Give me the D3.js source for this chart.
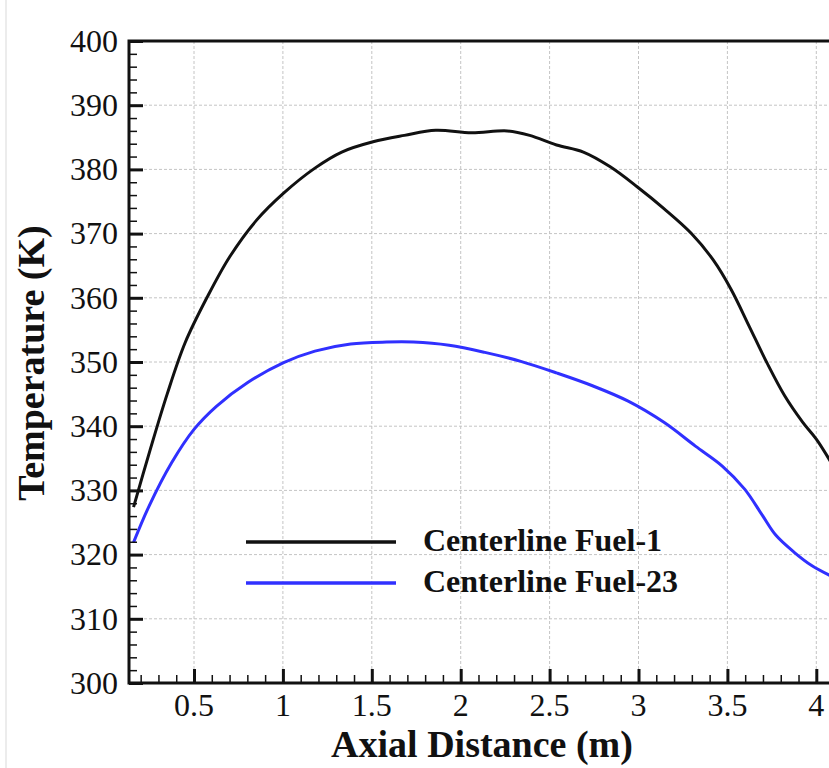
<!DOCTYPE html>
<html>
<head>
<script src="https://d3js.org/d3.v7.min.js"></script>
<style>
  body { margin: 0; background: #fff; }
  text { font-family: "Liberation Serif", "Times New Roman", serif; fill: #111; }
  .grid line { stroke: #c4c4c4; stroke-width: 1; stroke-dasharray: 3,2; }
  .curve { fill: none; stroke-width: 3; }
</style>
</head>
<body>
<div id="chart"></div>
<script>
// data
const fuel1X = [0.160, 0.25, 0.349, 0.450, 0.576, 0.701, 0.852, 1.004, 1.18, 1.331, 1.507, 1.683, 1.86, 2.061, 2.262, 2.388, 2.539, 2.69, 2.841, 2.992, 3.143, 3.295, 3.42, 3.521, 3.622, 3.722, 3.823, 3.924, 4.0, 4.08];
const fuel1T = [327.4, 336.0, 345.0, 353.0, 360.2, 366.4, 372.1, 376.3, 380.2, 382.7, 384.3, 385.3, 386.1, 385.7, 386.0, 385.3, 383.8, 382.7, 380.4, 377.3, 373.9, 370.1, 365.9, 361.3, 355.6, 349.9, 344.7, 340.6, 338.0, 334.5];
const fuel23X = [0.160, 0.248, 0.374, 0.5, 0.626, 0.802, 1.004, 1.18, 1.381, 1.583, 1.734, 1.935, 2.136, 2.338, 2.539, 2.741, 2.942, 3.143, 3.32, 3.471, 3.597, 3.697, 3.773, 3.874, 3.974, 4.08];
const fuel23T = [321.9, 327.6, 334.3, 339.5, 343.1, 346.8, 349.9, 351.7, 352.8, 353.1, 353.1, 352.6, 351.5, 350.1, 348.3, 346.3, 343.9, 340.6, 336.9, 333.8, 330.2, 326.1, 323.0, 320.4, 318.3, 316.7];
const xTicks = [0.5, 1, 1.5, 2, 2.5, 3, 3.5, 4];
const yTicks = [300, 310, 320, 330, 340, 350, 360, 370, 380, 390, 400];
const seriesNames = ["Centerline Fuel-1", "Centerline Fuel-23"];
const seriesColors = ["#111111", "#3030ff"];

const W = 829, H = 768;
const plotLeft = 129, plotTop = 41, plotBottom = 683;

const svg = d3.select("#chart").append("svg")
    .attr("width", W)
    .attr("height", H);

const x = d3.scaleLinear().domain([0.1344, 4.2]).range([plotLeft, plotLeft + (4.2 - 0.1344) * 177.8]);
const y = d3.scaleLinear().domain([300, 400]).range([plotBottom, plotTop]);

// faint page edge line
svg.append("line")
    .attr("x1", 6).attr("x2", 6).attr("y1", 0).attr("y2", H)
    .attr("stroke", "#e6e6e6").attr("stroke-width", 1.5);

// grid
const grid = svg.append("g").attr("class", "grid");
grid.selectAll(".gx").data(xTicks).enter().append("line")
    .attr("x1", d => x(d)).attr("x2", d => x(d))
    .attr("y1", plotTop).attr("y2", plotBottom);
grid.selectAll(".gy").data(yTicks.slice(1, -1)).enter().append("line")
    .attr("x1", plotLeft).attr("x2", W)
    .attr("y1", d => y(d)).attr("y2", d => y(d));

// curves
svg.append("defs").append("clipPath").attr("id", "clip")
    .append("rect").attr("x", plotLeft).attr("y", plotTop)
    .attr("width", W - plotLeft).attr("height", plotBottom - plotTop);

const line = d3.line()
    .x(d => x(d[0]))
    .y(d => y(d[1]))
    .curve(d3.curveCatmullRom);

const series = [
    fuel1X.map((v, i) => [v, fuel1T[i]]),
    fuel23X.map((v, i) => [v, fuel23T[i]])
];
series.forEach((pts, i) => {
    svg.append("path")
        .datum(pts)
        .attr("class", "curve")
        .attr("clip-path", "url(#clip)")
        .attr("stroke", seriesColors[i])
        .attr("d", line);
});

// axes: inward ticks, major + minor
const yAxis = d3.axisRight(y).tickValues(yTicks).tickSize(14).tickFormat("");
const yMinor = d3.axisRight(y).tickValues(d3.range(302, 400, 2).filter(d => d % 10 !== 0)).tickSize(8).tickFormat("");
const xAxis = d3.axisTop(x).tickValues(xTicks).tickSize(14).tickFormat("");
const xMinor = d3.axisTop(x).tickValues(d3.range(2, 42).map(d => d / 10).filter(d => d % 0.5 > 0.01 && d % 0.5 < 0.49)).tickSize(8).tickFormat("");

function styleAxis(g, w) {
    g.select(".domain").remove();
    g.selectAll(".tick line").attr("stroke", "#111").attr("stroke-width", w);
}
svg.append("g").attr("transform", `translate(${plotLeft},0)`).call(yAxis).call(g => styleAxis(g, 3));
svg.append("g").attr("transform", `translate(${plotLeft},0)`).call(yMinor).call(g => styleAxis(g, 1.5));
svg.append("g").attr("transform", `translate(0,${plotBottom})`).call(xAxis).call(g => styleAxis(g, 3));
svg.append("g").attr("transform", `translate(0,${plotBottom})`).call(xMinor).call(g => styleAxis(g, 1.5));

// frame
svg.append("path")
    .attr("d", `M${W + 5},${plotTop}H${plotLeft}V${plotBottom}H${W + 5}`)
    .attr("fill", "none").attr("stroke", "#111").attr("stroke-width", 3);

// tick labels
svg.selectAll(".ylab").data(yTicks).enter().append("text")
    .attr("x", 118).attr("y", d => y(d)).attr("dy", "0.34em")
    .attr("text-anchor", "end").style("font-size", "32px")
    .text(d => d);
svg.selectAll(".xlab").data(xTicks).enter().append("text")
    .attr("x", d => x(d)).attr("y", 716)
    .attr("text-anchor", "middle").style("font-size", "32px")
    .text(d => d);

// titles
svg.append("text")
    .attr("x", 482).attr("y", 757)
    .attr("text-anchor", "middle")
    .style("font-size", "38px").style("font-weight", "bold")
    .text("Axial Distance (m)");
svg.append("text")
    .attr("transform", "translate(44,363) rotate(-90)")
    .attr("text-anchor", "middle")
    .style("font-size", "38px").style("font-weight", "bold")
    .text("Temperature (K)");

// legend
const legend = svg.append("g");
seriesNames.forEach((name, i) => {
    const ly = 542 + i * 41;
    legend.append("line")
        .attr("x1", 246).attr("x2", 396).attr("y1", ly).attr("y2", ly)
        .attr("stroke", seriesColors[i]).attr("stroke-width", 3.5);
    legend.append("text")
        .attr("x", 423).attr("y", ly + 9)
        .style("font-size", "32px").style("font-weight", "bold")
        .text(name);
});
</script>
</body>
</html>
